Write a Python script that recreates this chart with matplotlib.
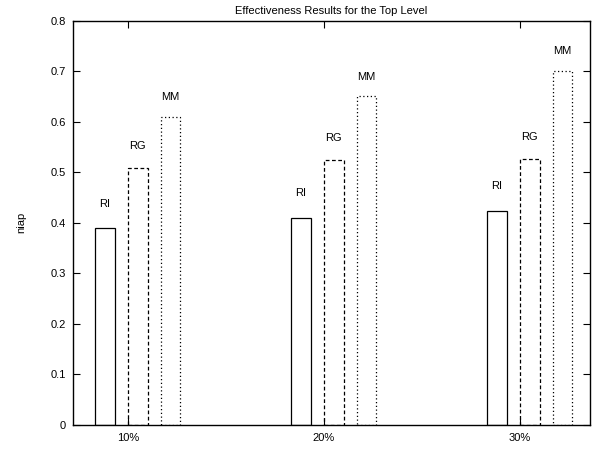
import matplotlib
matplotlib.use("Agg")
import matplotlib.pyplot as plt
import numpy as np

plt.rcParams['font.family'] = ['Liberation Sans', 'DejaVu Sans']

# data
groups = ['10%', '20%', '30%']
series = ['RI', 'RG', 'MM']
ri = [0.389, 0.409, 0.423]
rg = [0.509, 0.524, 0.527]
mm = [0.610, 0.650, 0.700]

values = [ri, rg, mm]
offsets = [-0.117, 0.05, 0.217]
styles = ['-', (0, (3, 2)), (0, (1, 2))]
label_pad = [0.049, 0.043, 0.039]
width = 0.1

fig = plt.figure(figsize=(5.92, 4.49), dpi=100)
ax = fig.add_axes([0.1225, 0.0535, 0.8741, 0.9008])

x = np.arange(1, len(groups) + 1)
for name, vals, off, ls, pad in zip(series, values, offsets, styles, label_pad):
    ax.bar(x + off, vals, width=width, fill=False, edgecolor='black',
           linestyle=ls, linewidth=0.9)
    for xi, v in zip(x, vals):
        ax.text(xi + off, v + pad, name, ha='center', va='center', fontsize=8)

ax.set_xlim(0.717, 3.357)
ax.set_ylim(0, 0.8)
ax.set_xticks(x)
ax.set_xticklabels(groups)
ax.set_yticks(np.arange(0, 0.81, 0.1))
ax.set_yticklabels(['0', '0.1', '0.2', '0.3', '0.4', '0.5', '0.6', '0.7', '0.8'])
ax.tick_params(direction='in', length=5, width=0.8, labelsize=8,
               top=True, right=True)
ax.tick_params(axis='y', pad=5)
ax.tick_params(axis='x', pad=6)
for s in ax.spines.values():
    s.set_linewidth(1)

ax.set_title('Effectiveness Results for the Top Level', fontsize=8, pad=5)
ax.set_ylabel('niap', fontsize=8, labelpad=17)

fig.savefig('out.png', dpi=100)
